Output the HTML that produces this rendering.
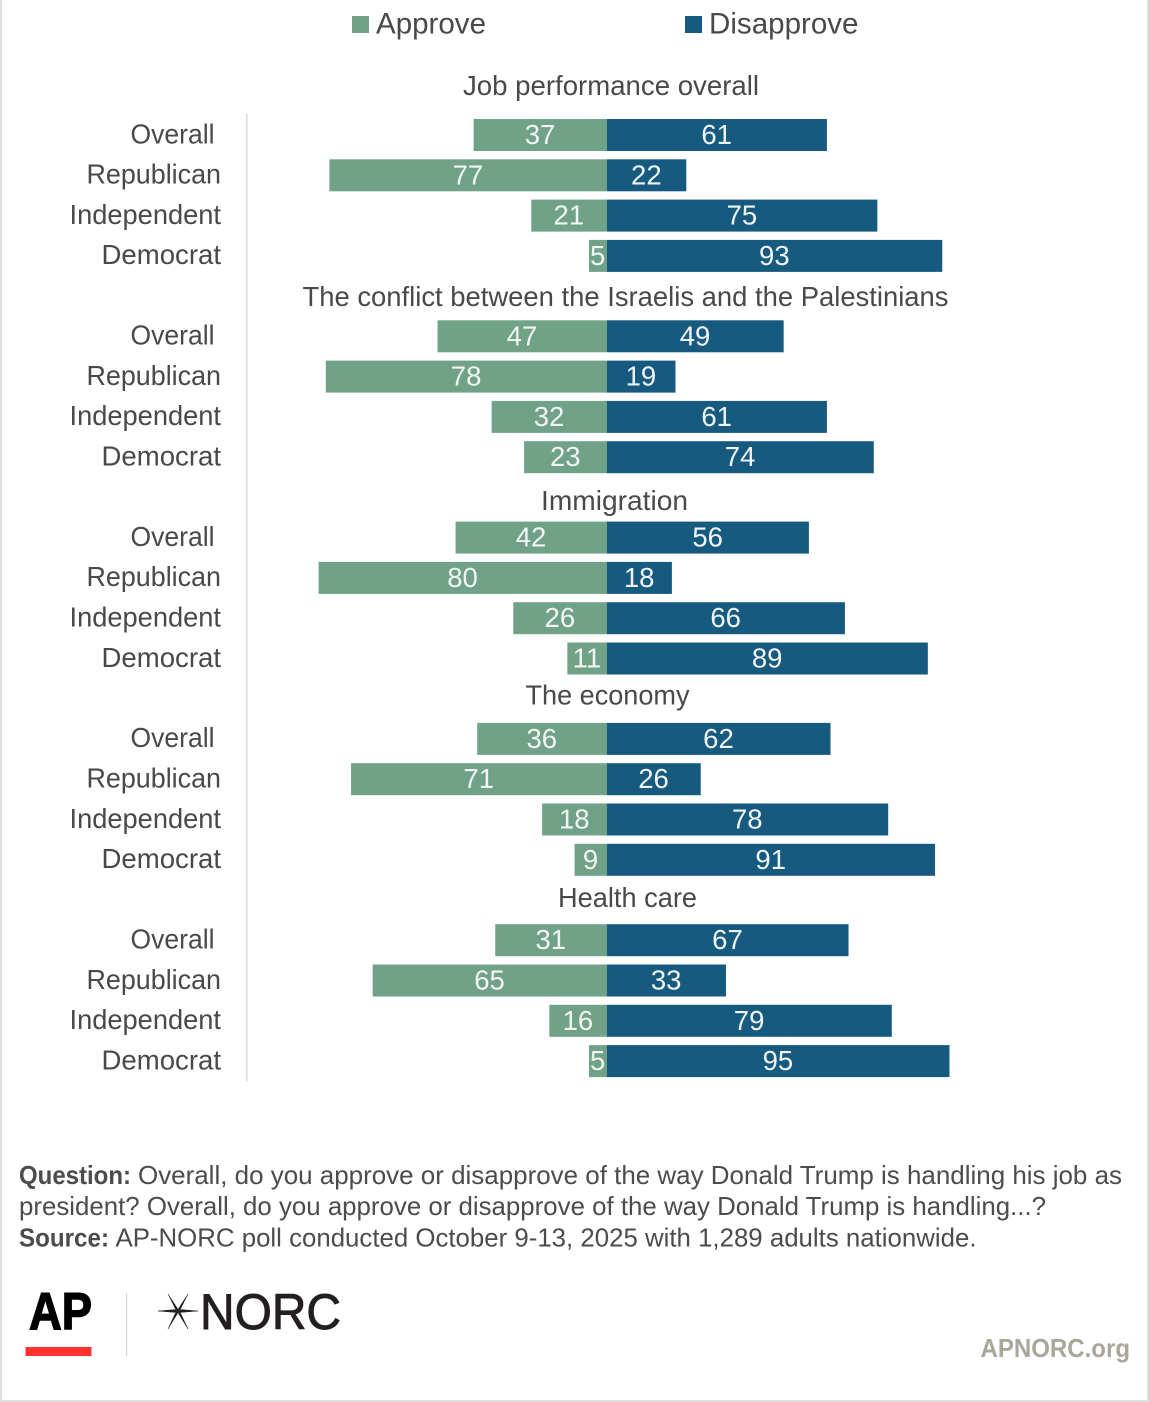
<!DOCTYPE html>
<html><head><meta charset="utf-8"><style>
html,body{margin:0;padding:0;background:#fff}
svg{display:block}
text{font-family:"Liberation Sans",sans-serif}
</style></head><body>
<svg id="chart" xmlns="http://www.w3.org/2000/svg" width="1149" height="1402" viewBox="0 0 1149 1402">
<rect width="1149" height="1402" fill="#fff"/>
<rect x="0" y="0" width="2" height="1402" fill="#dfdfdf"/>
<rect x="1147" y="0" width="2" height="1402" fill="#dfdfdf"/>
<rect x="0" y="1400" width="1149" height="2" fill="#dfdfdf"/>
<g font-size="29.5" fill="#47494b">
<rect x="352" y="16" width="17" height="17" fill="#70a288"/>
<text x="376" y="33.5" textLength="110" lengthAdjust="spacingAndGlyphs">Approve</text>
<rect x="685" y="16" width="17" height="17" fill="#165b7f"/>
<text x="709" y="33.5" textLength="149.5" lengthAdjust="spacingAndGlyphs">Disapprove</text>
</g>
<rect x="246" y="114" width="1.5" height="967" fill="#d8d8d8"/>
<g id="marks"></g>
<g font-size="26" fill="#4a4c4e">
<text x="19" y="1184" font-weight="bold" textLength="112" lengthAdjust="spacingAndGlyphs">Question:</text>
<text x="138" y="1184" textLength="984" lengthAdjust="spacingAndGlyphs">Overall, do you approve or disapprove of the way Donald Trump is handling his job as</text>
<text x="19" y="1215" textLength="1027" lengthAdjust="spacingAndGlyphs">president? Overall, do you approve or disapprove of the way Donald Trump is handling...?</text>
<text x="19" y="1246.7" font-weight="bold" textLength="90" lengthAdjust="spacingAndGlyphs">Source:</text>
<text x="115.5" y="1246.7" textLength="861" lengthAdjust="spacingAndGlyphs">AP-NORC poll conducted October 9-13, 2025 with 1,289 adults nationwide.</text>
</g>
<g>
<text x="29" y="1329" font-size="52" font-weight="bold" fill="#000" stroke="#000" stroke-width="1.4" textLength="63" lengthAdjust="spacingAndGlyphs">AP</text>
<rect x="25.5" y="1347" width="66" height="9" fill="#ff322e"/>
</g>
<rect x="126" y="1293" width="1.2" height="63" fill="#d6d6d0"/>
<g>
<g fill="#231f20" stroke="#231f20" stroke-width="0.5">
<polygon points="158,1311 175,1309.6 178,1311 175,1312.4"/>
<polygon points="198,1311 181,1309.6 178,1311 181,1312.4"/>
<polygon points="168,1294 176,1310 178,1311 177.5,1308.5"/>
<polygon points="188,1294 180,1310 178,1311 178.5,1308.5"/>
<polygon points="168,1329 176,1312 178,1311 177.5,1313.5"/>
<polygon points="188,1329 180,1312 178,1311 178.5,1313.5"/>
</g>
<text x="200" y="1329" font-size="50" fill="#231f20" stroke="#231f20" stroke-width="0.9" textLength="141" lengthAdjust="spacingAndGlyphs">NORC</text>
</g>
<text x="980.5" y="1357" font-size="26" font-weight="bold" fill="#aaa69a" textLength="149.5" lengthAdjust="spacingAndGlyphs">APNORC.org</text>
</svg>
<script>
var groupTitles = ["Job performance overall", "The conflict between the Israelis and the Palestinians", "Immigration", "The economy", "Health care"];
var categories = ["Overall", "Republican", "Independent", "Democrat"];
var approveValues = [
  [37, 77, 21, 5],
  [47, 78, 32, 23],
  [42, 80, 26, 11],
  [36, 71, 18, 9],
  [31, 65, 16, 5]
];
var disapproveValues = [
  [61, 22, 75, 93],
  [49, 19, 61, 74],
  [56, 18, 66, 89],
  [62, 26, 78, 91],
  [67, 33, 79, 95]
];

var NS = "http://www.w3.org/2000/svg";
var marks = document.getElementById("marks");
var UNIT = 3.605, ZERO = 607, BAR_H = 32;
var titleMetrics = [[463, 296, 95], [302.5, 646, 306], [541, 147, 510], [525.5, 164, 704.3], [558, 139, 907]];
var categoryMetrics = [[130.5, 84], [86.5, 134.5], [69.5, 151.5], [101.5, 119.5]];
function xScale(v) { return ZERO + v * UNIT; }
function groupTop(g) { return 119 + g * 201.3; }
function rowTop(g, r) { return groupTop(g) + r * 40.3; }
function addRect(x, y, w, h, fill) {
  var el = document.createElementNS(NS, "rect");
  el.setAttribute("x", x); el.setAttribute("y", y);
  el.setAttribute("width", w); el.setAttribute("height", h);
  el.setAttribute("fill", fill);
  marks.appendChild(el);
  return el;
}
function addText(str, x, y, size, fill, anchor, len) {
  var el = document.createElementNS(NS, "text");
  el.setAttribute("x", x); el.setAttribute("y", y);
  el.setAttribute("font-size", size); el.setAttribute("fill", fill);
  if (anchor) el.setAttribute("text-anchor", anchor);
  if (len) {
    el.setAttribute("textLength", len);
    el.setAttribute("lengthAdjust", "spacingAndGlyphs");
  }
  el.textContent = str;
  marks.appendChild(el);
  return el;
}
groupTitles.forEach(function (title, g) {
  var m = titleMetrics[g];
  var t = addText(title, m[0], m[2], 28, "#47494b", null, m[1]);
  
  
  categories.forEach(function (cat, r) {
    var top = rowTop(g, r);
    var cm = categoryMetrics[r];
    var c = addText(cat, cm[0], top + 24.3, 28, "#47494b", null, cm[1]);
    
    
    var a = approveValues[g][r], d = disapproveValues[g][r];
    var ax = xScale(-a), dx = xScale(d);
    var ab = addRect(ax, top, ZERO - ax, BAR_H, "#70a288");
    
    
    var db = addRect(ZERO, top, dx - ZERO, BAR_H, "#165b7f");
    
    
    var at = addText(String(a), (ax + ZERO) / 2 - 0.3, top + 25, 27.5, "#f2f5f3", "middle");
    
    
    var dt = addText(String(d), (dx + ZERO) / 2 - 0.3, top + 25, 27.5, "#f2f5f7", "middle");
    
    
  });
});
</script>
</body></html>
